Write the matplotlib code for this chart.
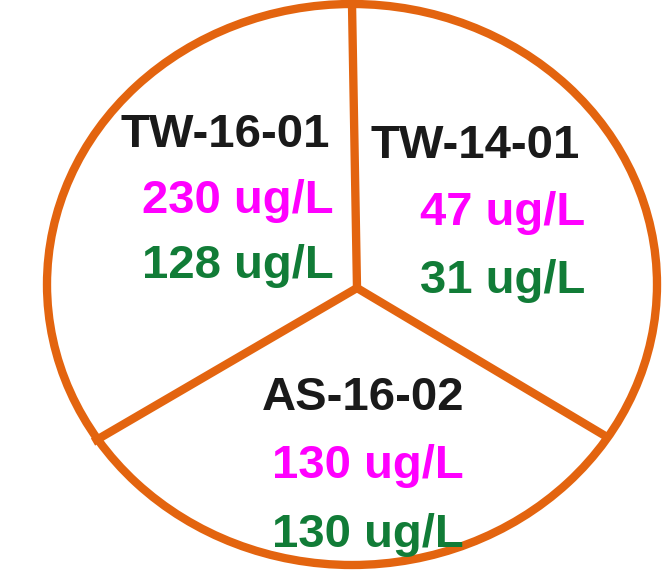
import matplotlib.pyplot as plt
from matplotlib.patches import Ellipse

# 지점 이름과 농도 값
sites = ['TW-16-01', 'TW-14-01', 'AS-16-02']
magenta_vals = ['230 ug/L', '47 ug/L', '130 ug/L']
green_vals = ['128 ug/L', '31 ug/L', '130 ug/L']

# 글자 위치 (오른쪽 끝 x, 기준선 y) - 픽셀 좌표
title_pos = [(330, 147), (580, 158), (464, 410)]
mag_pos = [(334, 213), (585, 225), (464, 478)]
grn_pos = [(334, 278), (585, 293), (464, 547)]

orange = '#E3640F'
magenta = '#FF00FF'
green = '#117C37'

fig = plt.figure(figsize=(6.67, 5.76), dpi=100)
ax = fig.add_axes([0, 0, 1, 1])
ax.set_xlim(0, 667)
ax.set_ylim(576, 0)
ax.axis('off')

# 바깥 타원
ax.add_patch(Ellipse((352, 284.5), 610, 561, fill=False, edgecolor=orange, lw=6))

# 중심에서 나가는 세 개의 선
cx, cy = 357, 288
for ex, ey in [(352, 4), (93, 442), (607, 437)]:
    ax.plot([cx, ex], [cy, ey], color=orange, lw=6, solid_capstyle='butt')

font = dict(family='Liberation Sans', weight='bold', fontsize=34, ha='right', va='baseline')
for i in range(3):
    ax.text(*title_pos[i], sites[i], color='#1a1a1a', **font)
    ax.text(*mag_pos[i], magenta_vals[i], color=magenta, **font)
    ax.text(*grn_pos[i], green_vals[i], color=green, **font)

fig.savefig('out.png', dpi=100)
